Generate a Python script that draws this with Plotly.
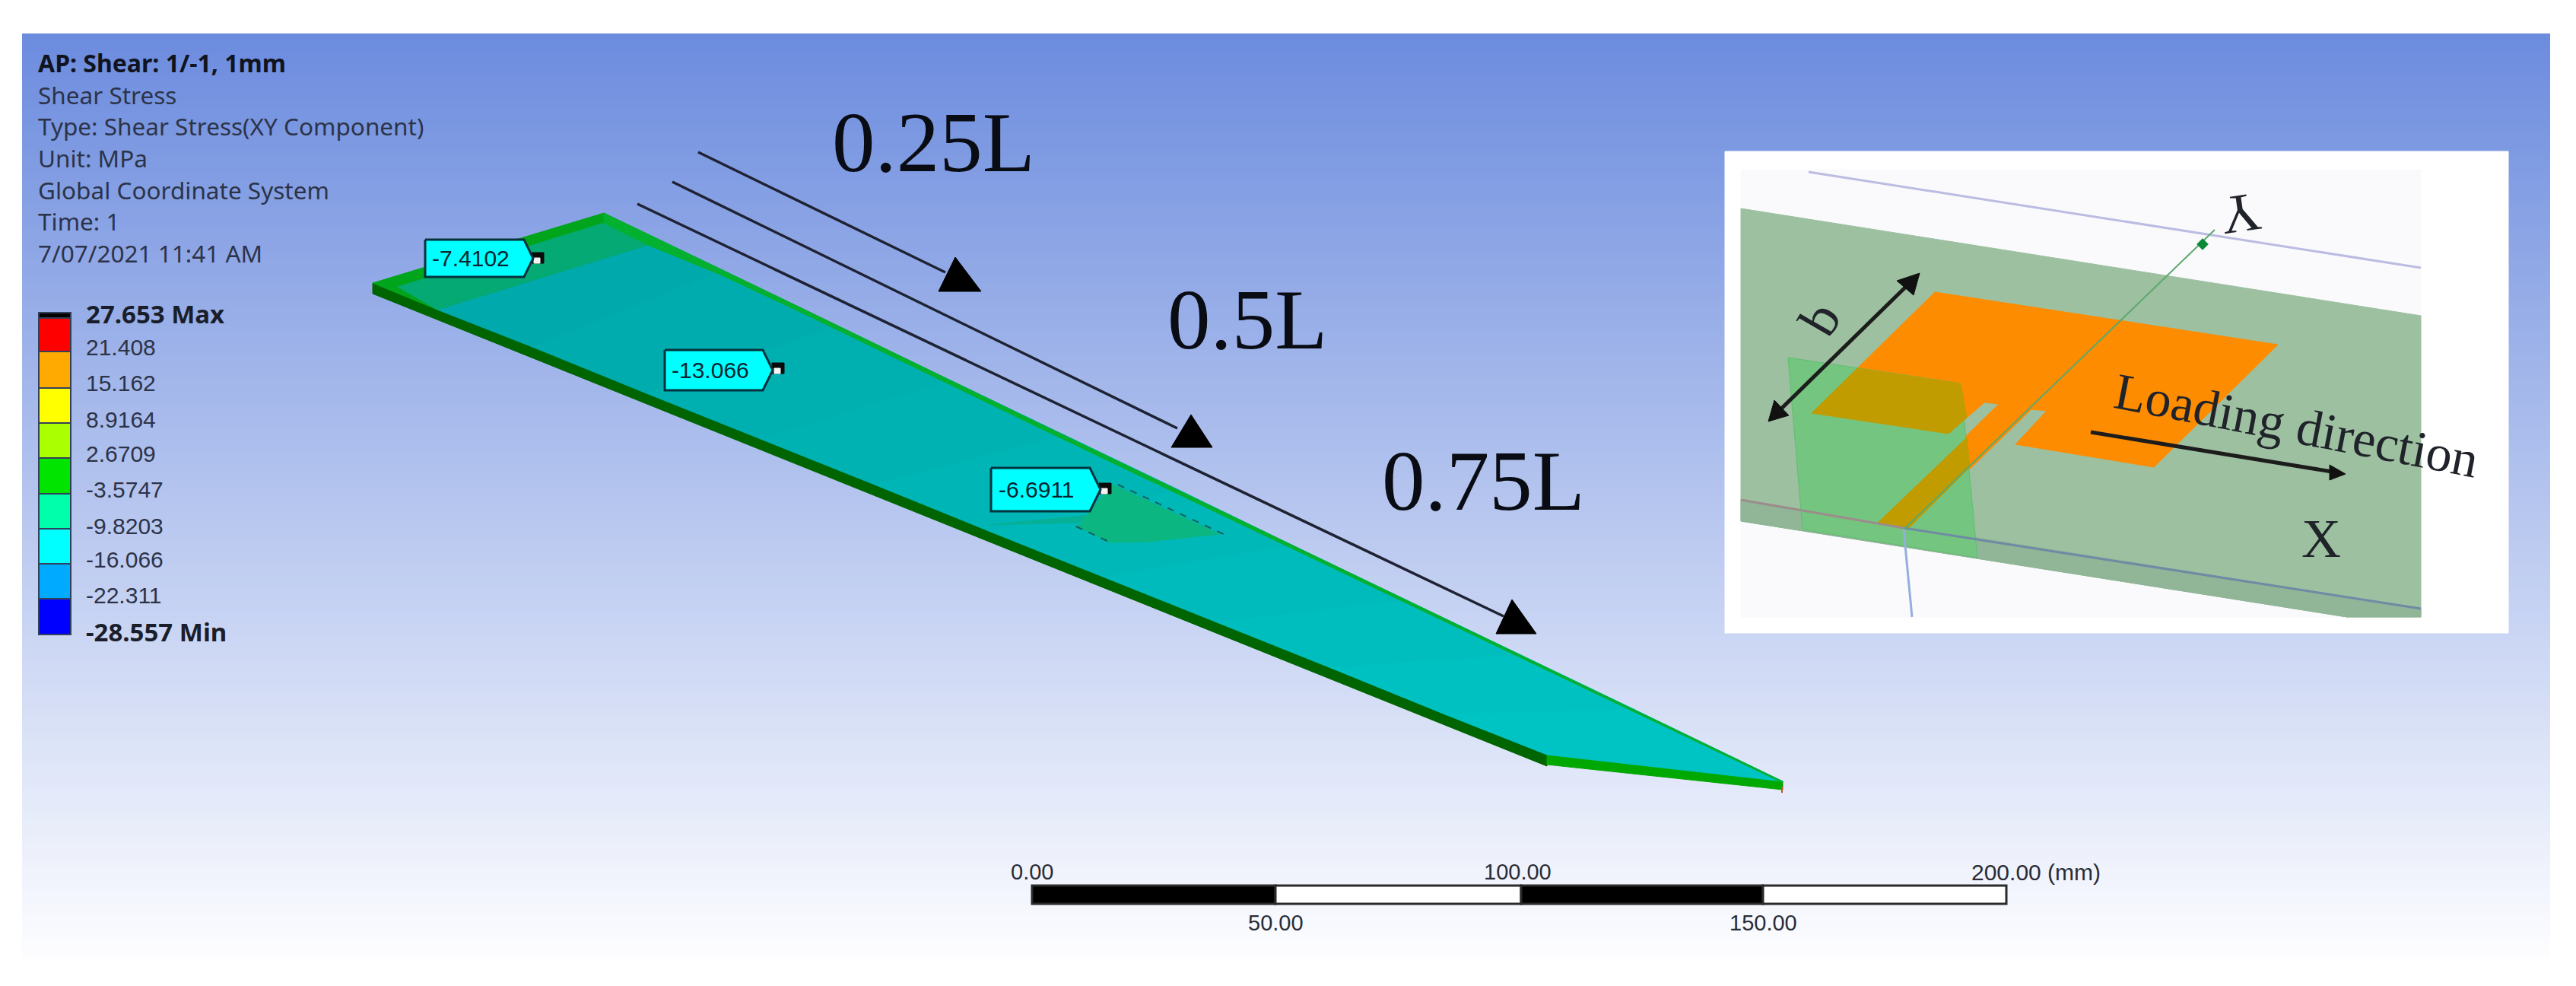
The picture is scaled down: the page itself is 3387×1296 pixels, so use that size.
import plotly.graph_objects as go

WIDTH, HEIGHT = 3387, 1296

# ---- background panel
panel_x = [29, 3353]
panel_y_edges = list(range(44, 1263, 8))
panel_levels = [[i] for i in range(len(panel_y_edges) - 1)]
panel_colors = ["#6c8cde", "#fdfdff"]

# ---- legend
info_lines = ["Shear Stress", "Type: Shear Stress(XY Component)", "Unit: MPa",
              "Global Coordinate System", "Time: 1", "7/07/2021 11:41 AM"]
info_y = [124, 165, 207, 249, 290, 332]
info_title = "AP: Shear: 1/-1, 1mm"
band_tops = [411, 418, 462, 510, 556, 602, 649, 695, 741, 787]
band_bottoms = [418, 462, 510, 556, 602, 649, 695, 741, 787, 834]
band_colors = ["#000000", "#ff0000", "#ffaa00", "#ffff00", "#aaff00", "#00e400",
               "#00ffaa", "#00ffff", "#00aaff", "#0000ff"]
level_labels = ["27.653 Max", "21.408", "15.162", "8.9164", "2.6709", "-3.5747",
                "-9.8203", "-16.066", "-22.311", "-28.557 Min"]
level_y = [412, 456, 503, 551, 596, 643, 691, 735, 782, 830]

# ---- plate (top surface and sides)
side_front_x = [490, 2034, 2034, 490]
side_front_y = [372, 992, 1007, 386]
side_end_x = [2034, 2344, 2344, 2034]
side_end_y = [992, 1027, 1038, 1005]
tip_tick_x, tip_tick_y = [2343, 2343], [1034, 1042]
green_zone_x = [490, 794, 806, 860, 860, 575]
green_zone_y = [372, 280, 286, 312, 330, 407]
mid_zone_x = [523, 794, 815, 852, 575]
mid_zone_y = [377, 293, 303, 322, 407]
teal_lower_x = [575, 700, 850, 1000, 1150, 1300, 1450, 1600, 1750, 1900, 2034]
teal_lower_y = [407, 456, 517, 577, 637, 698, 758, 818, 878, 939, 992]
teal_upper_x = [852, 950, 1100, 1250, 1400, 1550, 1700, 1850, 2000, 2150, 2344]
teal_upper_y = [308, 355, 428, 500, 572, 644, 717, 789, 861, 933, 1027]
teal_colors = ["#00a9ab", "#00acad", "#00afb0", "#00b2b2", "#00b5b5",
               "#00b8b8", "#00bbbb", "#00bebe", "#00c1c1", "#00c3c3"]
edge_x = [794, 1050, 1353, 2344, 2344, 1353, 1050, 947, 852, 794]
edge_y = [280, 403, 550, 1027, 1029, 556, 409, 361, 322, 293]
patch_x = [1463, 1603, 1510, 1460, 1417, 1447]
patch_y = [637, 702, 712, 713, 692, 655]
streak_x = [1300, 1433, 1417]
streak_y = [690, 677, 687]
dash1_x, dash1_y = [1470, 1615], [637, 705]
dash2_x, dash2_y = [1415, 1460], [692, 713]

# ---- probes
probe_text = ["-7.4102", "-13.066", "-6.6911"]
probe_left = [559, 874, 1303]
probe_right = [689, 1003, 1433]
probe_top = [315, 460, 615]
probe_bottom = [364, 513, 672]
probe_tip = [701, 1016, 1447]
probe_mark_x = [707, 1023, 1453]
probe_mark_y = [339, 484, 642]

# ---- length arrows
arrow_start_x = [918, 884, 838]
arrow_start_y = [200, 239, 268]
arrow_end_x = [1243, 1548, 1977]
arrow_end_y = [358, 563, 810]
head_apex_x = [1256, 1566, 1988]
head_apex_y = [338, 545, 788]
head_left_x = [1234, 1540, 1967]
head_right_x = [1290, 1594, 2020]
head_base_y = [383, 588, 833]
length_labels = ["0.25L", "0.5L", "0.75L"]
length_x = [1227, 1640, 1950]
length_y = [186, 419, 631]

# ---- scale bar
scale_lefts = [1357, 1677, 2000, 2318]
scale_widths = [320, 323, 318, 320]
scale_colors = ["#000000", "#ffffff", "#000000", "#ffffff"]
scale_top_labels = ["0.00", "100.00"]
scale_top_x = [1357, 1995]
scale_bottom_labels = ["50.00", "150.00"]
scale_bottom_x = [1677, 2318]
scale_end_label = "200.00 (mm)"

# ---- inset
inset_box_x, inset_box_y = [2268, 3298, 3298, 2268], [199, 199, 832, 832]
grid_x, grid_y = [2289, 3183, 3183, 2289], [223, 223, 811, 811]
sub_x, sub_y = [2289, 3183, 3183, 3086, 2289], [274, 415, 811, 811, 685]
strip_x, strip_y = [2289, 3183, 3183, 3086, 2289], [657, 800, 811, 811, 685]
orange_x = [2544, 2995, 2832, 2650, 2691, 2671, 2510, 2469, 2628, 2609, 2562, 2382]
orange_y = [384, 453, 614, 584, 540, 538, 694, 687, 531, 529, 570, 543]
film_x, film_y = [2351, 2578, 2600, 2370], [470, 504, 733, 696]
over1_x, over1_y = [2442, 2578, 2586, 2562, 2382], [484, 504, 549, 570, 543]
over2_x, over2_y = [2586, 2590, 2510, 2469], [575, 614, 694, 687]
lav_x, lav_y = [2378, 3183], [226, 352]
red_x, red_y = [2289, 2503], [657, 694]
bluegrey_x, bluegrey_y = [2503, 3183], [694, 800]
yaxis_x, yaxis_y = [2503, 2912], [696, 302]
zaxis_x, zaxis_y = [2503, 2514], [696, 811]
b_line_x, b_line_y = [2332, 2516], [547, 367]
b_head1_x, b_head1_y = [2524, 2494, 2516], [359, 369, 388]
b_head2_x, b_head2_y = [2325, 2333, 2352], [554, 526, 546]
load_line_x, load_line_y = [2749, 3066], [568, 620]
load_head_x, load_head_y = [3084, 3063, 3063], [623, 611, 631]
inset_texts = ["Loading direction", "X", "Y", "b"]
inset_text_x = [3019, 3052, 2946, 2393]
inset_text_y = [559, 708, 281, 419]
inset_text_size = [68, 72, 72, 72]
inset_text_angle = [11, 0, 172, -60]

SANS = "Liberation Sans"
LEGEND_FONT = "Noto Sans"
SERIF = "Liberation Serif"
fig = go.Figure()


def poly(xs, ys, color, line=None, lw=1):
    fig.add_trace(go.Scatter(x=xs + xs[:1], y=ys + ys[:1], mode="lines", fill="toself",
                             fillcolor=color, line=dict(color=line or color, width=lw),
                             hoverinfo="skip", showlegend=False))


def stroke(xs, ys, color, lw, dash=None):
    fig.add_trace(go.Scatter(x=xs, y=ys, mode="lines", line=dict(color=color, width=lw, dash=dash),
                             hoverinfo="skip", showlegend=False))


def label(x, y, text, size, family=SANS, color="#1c2230", anchor="left", angle=0, bold=False):
    fig.add_annotation(x=x, y=y, xref="x", yref="y", text=f"<b>{text}</b>" if bold else text,
                       showarrow=False, xanchor=anchor, yanchor="middle", textangle=angle,
                       font=dict(family=family, size=size, color=color), borderpad=0, borderwidth=0)


fig.add_trace(go.Heatmap(x=panel_x, y=panel_y_edges, z=panel_levels, showscale=False,
                         colorscale=[[0, panel_colors[0]], [1, panel_colors[1]]], hoverinfo="skip"))

# legend colour bar
fig.add_trace(go.Bar(x=[72] * len(band_tops), y=[b - t for t, b in zip(band_tops, band_bottoms)],
                     base=band_tops, width=42, marker=dict(color=band_colors, line=dict(color="#33405a", width=2)),
                     hoverinfo="skip", showlegend=False))
# scale bar
fig.add_trace(go.Bar(y=[1176] * 4, x=scale_widths, base=scale_lefts, orientation="h", width=24,
                     marker=dict(color=scale_colors, line=dict(color="#2a2a2a", width=3)),
                     hoverinfo="skip", showlegend=False))

# plate
poly(side_front_x, side_front_y, "#006400")
poly(side_end_x, side_end_y, "#00a800")
stroke(tip_tick_x, tip_tick_y, "#c05030", 2)
poly(green_zone_x, green_zone_y, "#00a51c")
for i, c in enumerate(teal_colors):
    poly([teal_lower_x[i], teal_upper_x[i], teal_upper_x[i + 1], teal_lower_x[i + 1]],
         [teal_lower_y[i], teal_upper_y[i], teal_upper_y[i + 1], teal_lower_y[i + 1]], c)
poly(mid_zone_x, mid_zone_y, "#05a973")
poly(edge_x, edge_y, "#03b030")
poly(streak_x, streak_y, "#06b096")
poly(patch_x, patch_y, "#0cb680")
stroke(dash1_x, dash1_y, "#15605a", 2, "dash")
stroke(dash2_x, dash2_y, "#15605a", 2, "dash")

# probes
for txt, l, r, t, b, tip, mx, my in zip(probe_text, probe_left, probe_right, probe_top, probe_bottom,
                                         probe_tip, probe_mark_x, probe_mark_y):
    poly([mx - 8, mx + 8, mx + 8, mx - 8], [my - 7, my - 7, my + 7, my + 7], "#0a0a0a")
    poly([mx - 5, mx + 3, mx + 3, mx - 5], [my, my, my + 7, my + 7], "#f4f4f4")
    poly([l, r, tip, r, l], [t, t, (t + b) / 2, b, b], "#00ffff", line="#06323c", lw=3)
    label((l + r) / 2 - 5, (t + b) / 2, txt, 30, color="#062430", anchor="center")

# length arrows
for x0, y0, x1, y1, ax, ay, lx, rx, by in zip(arrow_start_x, arrow_start_y, arrow_end_x, arrow_end_y,
                                               head_apex_x, head_apex_y, head_left_x, head_right_x, head_base_y):
    stroke([x0, x1], [y0, y1], "#1e2233", 3.5)
    poly([ax, rx, lx], [ay, by, by], "#000000")
for t, x, y in zip(length_labels, length_x, length_y):
    label(x, y, t, 113, family=SERIF, color="#0a0c14", anchor="center")

# inset
poly(inset_box_x, inset_box_y, "#ffffff")
poly(grid_x, grid_y, "#fafafd")
stroke(lav_x, lav_y, "#bcbce2", 3)
poly(sub_x, sub_y, "#9dc0a0")
poly(strip_x, strip_y, "#90b597")
poly(orange_x, orange_y, "#fd8c00")
poly(film_x, film_y, "#74c580", line="#62bd72")
poly(over1_x, over1_y, "#c09c00")
poly(over2_x, over2_y, "#c09c00")
stroke(red_x, red_y, "#9c8c8c", 3)
stroke(bluegrey_x, bluegrey_y, "#6f8aa5", 3)
stroke(yaxis_x, yaxis_y, "#5da86c", 2)
stroke(zaxis_x, zaxis_y, "#94afdc", 3)
fig.add_trace(go.Scatter(x=[yaxis_x[1] - 16], y=[321], mode="markers", hoverinfo="skip", showlegend=False,
                         marker=dict(color="#0b8a35", size=12, symbol="diamond")))
stroke(b_line_x, b_line_y, "#1c1c1c", 5)
poly(b_head1_x, b_head1_y, "#111111")
poly(b_head2_x, b_head2_y, "#111111")
stroke(load_line_x, load_line_y, "#1c1c1c", 5)
poly(load_head_x, load_head_y, "#111111")
for t, x, y, s, a in zip(inset_texts, inset_text_x, inset_text_y, inset_text_size, inset_text_angle):
    label(x, y, t, s, family=SERIF, color="#20242a", anchor="center", angle=a)

# legend text
label(50, 82, info_title, 32, family=LEGEND_FONT, bold=True, color="#10141f")
for t, y in zip(info_lines, info_y):
    label(50, y, t, 31.5, family=LEGEND_FONT, color="#2c3348")
for i, (t, y) in enumerate(zip(level_labels, level_y)):
    label(113, y, t, 33 if i in (0, 9) else 30, family=LEGEND_FONT if i in (0, 9) else SANS,
          color="#1a1e2a" if i in (0, 9) else "#2c3348", bold=i in (0, 9))

# scale bar text
for t, x in zip(scale_top_labels, scale_top_x):
    label(x, 1146, t, 29, anchor="center", color="#2a2c36")
for t, x in zip(scale_bottom_labels, scale_bottom_x):
    label(x, 1213, t, 29, anchor="center", color="#2a2c36")
label(2592, 1146, scale_end_label, 30, color="#2a2c36")

fig.update_layout(width=WIDTH, height=HEIGHT, margin=dict(l=0, r=0, t=0, b=0), paper_bgcolor="#ffffff",
                  plot_bgcolor="#ffffff", barmode="overlay", showlegend=False,
                  xaxis=dict(range=[0, WIDTH], visible=False, fixedrange=True),
                  yaxis=dict(range=[HEIGHT, 0], visible=False, fixedrange=True))

fig.write_html("out.html", config={"displayModeBar": False},
               post_script="document.body.style.margin='0';")
